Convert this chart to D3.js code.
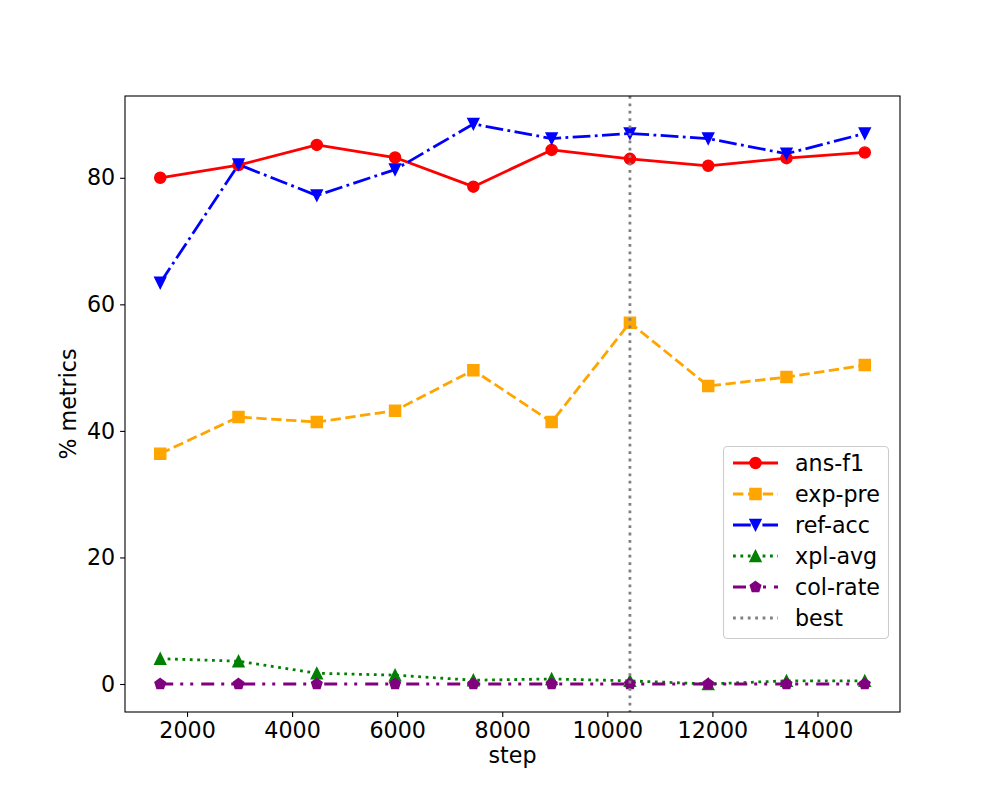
<!DOCTYPE html>
<html><head><meta charset="utf-8">
<script src="https://cdn.jsdelivr.net/npm/d3@7"></script>
<style>body{margin:0;background:#fff}svg{display:block}text{font-family:"DejaVu Sans",sans-serif;fill:#000}</style>
</head><body>
<svg id="c" width="1000" height="800"></svg>
<script>
const steps = [1490, 2980, 4470, 5960, 7450, 8940, 10430, 11920, 13410, 14900];
const ansF1 = [80.0, 82.0, 85.2, 83.2, 78.6, 84.4, 83.0, 81.9, 83.1, 84.0];
const expPre = [36.4, 42.2, 41.4, 43.2, 49.6, 41.4, 57.1, 47.1, 48.5, 50.4];
const refAcc = [63.4, 82.1, 77.2, 81.3, 88.5, 86.2, 87.0, 86.2, 83.8, 87.0];
const xplAvg = [4.0, 3.6, 1.7, 1.4, 0.6, 0.8, 0.5, 0.0, 0.5, 0.5];
const colRate = [0, 0, 0, 0, 0, 0, 0, 0, 0, 0];
const bestStep = 10430;
const xTicks = [2000, 4000, 6000, 8000, 10000, 12000, 14000];
const yTicks = [0, 20, 40, 60, 80];
const seriesNames = ["ans-f1", "exp-pre", "ref-acc", "xpl-avg", "col-rate"];

const L = 125, R = 900, T = 96, B = 712;
const svg = d3.select("#c");
const xmin = d3.min(steps), xmax = d3.max(steps);
const xm = (xmax - xmin) * 0.05;
const allY = [].concat(ansF1, expPre, refAcc, xplAvg, colRate);
const ymin = d3.min(allY), ymax = d3.max(allY);
const ym = (ymax - ymin) * 0.05;
const x = d3.scaleLinear().domain([xmin - xm, xmax + xm]).range([L, R]);
const y = d3.scaleLinear().domain([ymin - ym, ymax + ym]).range([B, T]);

const series = [
  {name: seriesNames[0], vals: ansF1, color: "red", dash: null, sym: "circle"},
  {name: seriesNames[1], vals: expPre, color: "orange", dash: "10.4,4.5", sym: "square"},
  {name: seriesNames[2], vals: refAcc, color: "blue", dash: "17.8,4.4,2.8,4.4", sym: "tdown"},
  {name: seriesNames[3], vals: xplAvg, color: "green", dash: "2.8,4.6", sym: "tup"},
  {name: seriesNames[4], vals: colRate, color: "purple", dash: "13,7,3,7,3,8", sym: "pent"}
];

const ms = 11.1;
function markerPath(sym) {
  const h = ms / 2;
  if (sym === "circle") return d3.symbol(d3.symbolCircle, Math.PI * h * h)();
  if (sym === "square") return `M${-h},${-h}H${h}V${h}H${-h}Z`;
  if (sym === "tdown") return `M0,${h}L${-h},${-h}L${h},${-h}Z`;
  if (sym === "tup") return `M0,${-h}L${-h},${h}L${h},${h}Z`;
  if (sym === "pent") {
    const pts = d3.range(5).map(i => {
      const a = -Math.PI / 2 + i * 2 * Math.PI / 5;
      return [h * Math.cos(a), h * Math.sin(a)];
    });
    return "M" + pts.map(p => p.join(",")).join("L") + "Z";
  }
}

const plot = svg.append("g");
plot.append("defs").append("clipPath").attr("id", "clip")
  .append("rect").attr("x", L).attr("y", T).attr("width", R - L).attr("height", B - T);

const line = d3.line().x((d, i) => x(steps[i])).y(d => y(d));
const pg = plot.append("g").attr("clip-path", "url(#clip)");
series.forEach(s => {
  pg.append("path").datum(s.vals).attr("d", line)
    .attr("fill", "none").attr("stroke", s.color).attr("stroke-width", 2.78)
    .attr("stroke-dasharray", s.dash).attr("stroke-linejoin", "round");
  pg.selectAll(null).data(s.vals).enter().append("path")
    .attr("d", markerPath(s.sym))
    .attr("transform", (d, i) => `translate(${x(steps[i])},${y(d)})`)
    .attr("fill", s.color).attr("stroke", s.color).attr("stroke-width", 1.39);
});
pg.append("line").attr("x1", x(bestStep)).attr("x2", x(bestStep))
  .attr("y1", T).attr("y2", B).attr("stroke", "gray").attr("stroke-width", 2.78)
  .attr("stroke-dasharray", "2.8,4.6");

// axes
const xAxis = d3.axisBottom(x).tickValues(xTicks).tickSize(4.9).tickPadding(4.9).tickFormat(d3.format("d"));
const yAxis = d3.axisLeft(y).tickValues(yTicks).tickSize(4.9).tickPadding(4.9).tickFormat(d3.format("d"));
const gx = svg.append("g").attr("transform", `translate(0,${B})`).call(xAxis);
const gy = svg.append("g").attr("transform", `translate(${L},0)`).call(yAxis);
[gx, gy].forEach(g => {
  g.select(".domain").remove();
  g.selectAll(".tick line").attr("stroke", "#000").attr("stroke-width", 1.1);
  g.selectAll(".tick text").attr("font-size", 22.2).attr("font-family", "DejaVu Sans").attr("fill", "#000");
});
svg.append("rect").attr("x", L).attr("y", T).attr("width", R - L).attr("height", B - T)
  .attr("fill", "none").attr("stroke", "#000").attr("stroke-width", 1.1);

svg.append("text").attr("x", (L + R) / 2).attr("y", 763).attr("text-anchor", "middle")
  .attr("font-size", 22.2).text("step");
svg.append("text").attr("transform", `translate(76,${(T + B) / 2}) rotate(-90)`)
  .attr("text-anchor", "middle").attr("font-size", 22.2).text("% metrics");

// legend
const lg = svg.append("g");
lg.append("rect").attr("x", 723.5).attr("y", 446.5).attr("width", 165).attr("height", 192)
  .attr("rx", 4).attr("fill", "#fff").attr("fill-opacity", 0.8).attr("stroke", "#ccc").attr("stroke-width", 1.1);
const legItems = series.map(s => ({name: s.name, color: s.color, dash: s.dash, sym: s.sym}))
  .concat([{name: "best", color: "gray", dash: "2.8,4.6", sym: null}]);
legItems.forEach((it, i) => {
  const cy = 463 + i * 31;
  lg.append("line").attr("x1", 733).attr("x2", 778).attr("y1", cy).attr("y2", cy)
    .attr("stroke", it.color).attr("stroke-width", 2.78).attr("stroke-dasharray", it.dash);
  if (it.sym) lg.append("path").attr("d", markerPath(it.sym)).attr("transform", `translate(755.5,${cy})`)
    .attr("fill", it.color).attr("stroke", it.color).attr("stroke-width", 1.39);
  lg.append("text").attr("x", 795).attr("y", cy).attr("dy", "0.35em").attr("font-size", 22.2).text(it.name);
});
</script>
</body></html>
